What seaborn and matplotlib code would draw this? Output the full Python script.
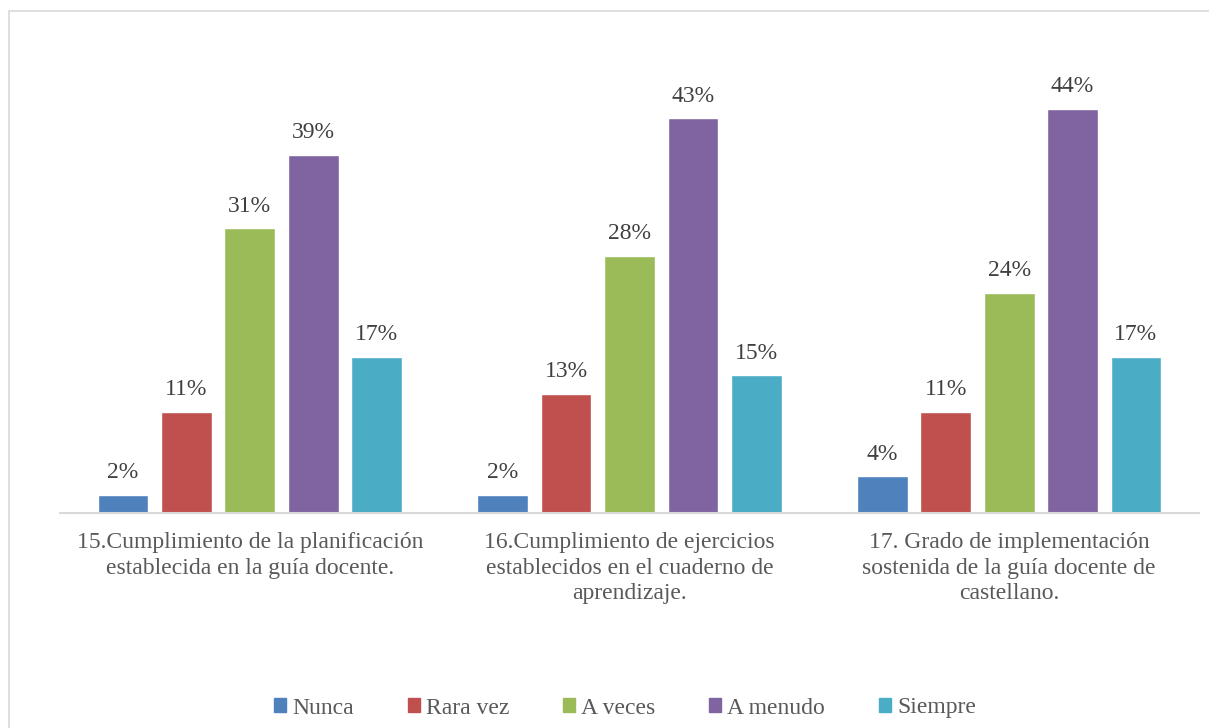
import matplotlib
matplotlib.use("Agg")
import matplotlib.pyplot as plt
import seaborn as sns
import pandas as pd
from matplotlib.patches import Rectangle

categories = [
    "15.Cumplimiento de la planificación\nestablecida en la guía docente.",
    "16.Cumplimiento de ejercicios\nestablecidos en el cuaderno de\naprendizaje.",
    "17. Grado de implementación\nsostenida de la guía docente de\ncastellano.",
]
series = ["Nunca", "Rara vez", "A veces", "A menudo", "Siempre"]
nunca = [2, 2, 4]
rara_vez = [11, 13, 11]
a_veces = [31, 28, 24]
a_menudo = [39, 43, 44]
siempre = [17, 15, 17]
colors = ["#4F81BD", "#C0504D", "#9BBB59", "#8064A2", "#4BACC6"]

values = [nunca, rara_vez, a_veces, a_menudo, siempre]
rows = []
for s, vals in zip(series, values):
    for c, v in zip(categories, vals):
        rows.append({"cat": c, "serie": s, "val": v})
df = pd.DataFrame(rows)

sns.set_theme(style="white")
plt.rcParams["font.family"] = ["Liberation Serif", "DejaVu Serif"]
label_color = "#404040"
text_color = "#595959"
fs = 17

fig = plt.figure(figsize=(12.09, 7.28), dpi=100)
ax = fig.add_axes([60 / 1209, (728 - 513) / 728, (1199 - 60) / 1209, (513 - 54) / 728])

sns.barplot(data=df, x="cat", y="val", hue="serie", order=categories,
            hue_order=series, palette=colors, width=0.835, gap=0.2,
            saturation=1, ax=ax, legend=True)

for cont in ax.containers:
    for bar in cont:
        h = bar.get_height()
        ax.annotate(f"{h:.0f}%", (bar.get_x() + bar.get_width() / 2, h),
                    xytext=(0, 12), textcoords="offset points",
                    ha="center", va="baseline", fontsize=fs, color=label_color)

ax.set_ylim(0, 50)
ax.set_xlim(-0.5, 2.5)
ax.set_xlabel("")
ax.set_ylabel("")
ax.set_yticks([])
for side in ["top", "left", "right"]:
    ax.spines[side].set_visible(False)
ax.spines["bottom"].set_color("#d9d9d9")
ax.spines["bottom"].set_linewidth(1.5)
ax.tick_params(axis="x", length=0, pad=14, labelsize=fs, labelcolor=text_color)
for lbl in ax.get_xticklabels():
    lbl.set_linespacing(1.28)

ax.get_legend().remove()
handles = [Rectangle((0, 0), 1, 1, color=c) for c in colors]
fig.legend(handles, series, loc="center", bbox_to_anchor=(625 / 1209, 1 - 708 / 728),
           ncol=5, frameon=False, fontsize=fs, handlelength=0.5, handleheight=0.5,
           handletextpad=0.25, columnspacing=2.3, labelcolor=text_color)

fig.patches.append(Rectangle((8.5 / 1209, -0.05), 1.2, 1 - 11 / 728 + 0.05,
                             transform=fig.transFigure, fill=False,
                             edgecolor="#d9d9d9", linewidth=1.2))

fig.savefig("out.png", dpi=100)
